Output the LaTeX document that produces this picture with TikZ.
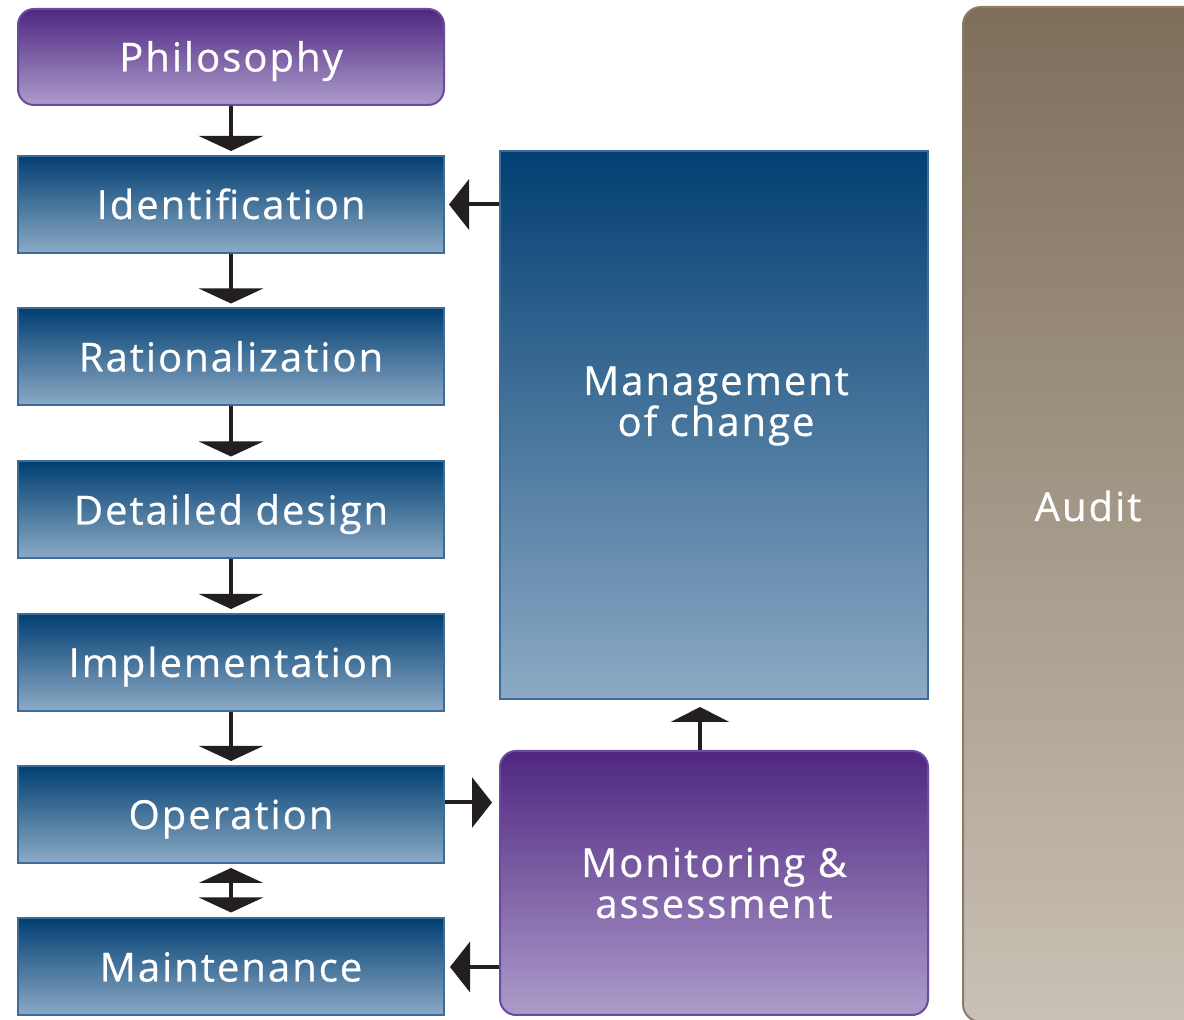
\documentclass[tikz,border=0pt]{standalone}
\usepackage{fontspec}
\setmainfont{Open Sans}[LetterSpace=5,FakeBold=0.6]
\usetikzlibrary{arrows.meta}

\definecolor{navy}{HTML}{023F72}
\definecolor{steel}{HTML}{8CAAC5}
\definecolor{blueedge}{HTML}{3C6C9A}
\definecolor{plum}{HTML}{4F2681}
\definecolor{lilac}{HTML}{AC9CCA}
\definecolor{plumedge}{HTML}{6B4B9D}
\definecolor{taupe}{HTML}{7E6F5B}
\definecolor{sand}{HTML}{C9C1B5}
\definecolor{taupeedge}{HTML}{8B7B67}
\definecolor{inkblack}{HTML}{231F20}

\tikzset{
  boxtext/.style={text=white, font=\fontsize{40}{41}\selectfont, align=center, inner sep=0pt},
  oneline/.style={text height=29pt, text depth=0pt},
  bluebox/.style={boxtext, oneline, draw=blueedge, line width=2pt, top color=navy, bottom color=steel,
    minimum width=426pt, minimum height=97pt},
  purplebox/.style={boxtext, draw=plumedge, line width=2pt, top color=plum, bottom color=lilac,
    rounded corners=16pt},
  flowarrow/.style={draw=inkblack, line width=4pt, -{Triangle[width=64pt,length=15pt]}, shorten >=4pt},
  sidearrow/.style={draw=inkblack, line width=4pt, -{Triangle[width=50pt,length=20pt]}},
}

\begin{document}
\begin{tikzpicture}[x=1pt,y=1pt]
\useasboundingbox (0,0) rectangle (1184,1020);
\clip (0,0) rectangle (1184,1020);

% main sequence of stages
\node[purplebox, oneline, minimum width=426pt, minimum height=96pt] (philo) at (231,963) {Philosophy};
\node[bluebox] (ident) at (231,815.5) {Identification};
\node[bluebox] (rat)   at (231,663)   {Rationalization};
\node[bluebox] (det)   at (231,510)   {Detailed design};
\node[bluebox] (impl)  at (231,357.5) {Implementation};
\node[bluebox] (op)    at (231,205.5) {Operation};
\node[bluebox] (maint) at (231,53)    {Maintenance};

% management of change and monitoring
\node[bluebox, minimum width=428pt, minimum height=548pt] (moc) at (714,595) {};
\node[boxtext] (moctext) at (716,614) {Management\\of change};
\node[purplebox, minimum width=428pt, minimum height=264pt] (mon) at (714,137) {Monitoring \&\\assessment};

% audit column
\node[draw=taupeedge, line width=2pt, top color=taupe, bottom color=sand, rounded corners=18pt,
      minimum width=250pt, minimum height=1015pt] (audit) at (1088,505.5) {};
\node[boxtext] (audittext) at (1088,514) {Audit};

% connectors
\draw[flowarrow] (philo.south) -- (ident.north);
\draw[flowarrow] (ident.south) -- (rat.north);
\draw[flowarrow] (rat.south) -- (det.north);
\draw[flowarrow] (det.south) -- (impl.north);
\draw[flowarrow] (impl.south) -- (op.north);
\draw[draw=inkblack, line width=4pt, {Triangle[width=64pt,length=15pt]}-{Triangle[width=64pt,length=15pt]},
      shorten <=4pt, shorten >=5pt] (op.south) -- (maint.north);

\draw[sidearrow, shorten >=4pt] (moc.west |- ident.east) -- (ident.east);
\coordinate (opout) at ([yshift=12pt]op.east);
\draw[sidearrow, shorten >=7pt] (opout) -- (opout -| mon.west);
\draw[sidearrow, shorten >=5pt] (mon.west |- maint.east) -- (maint.east);
\draw[draw=inkblack, line width=4pt, -{Triangle[width=58pt,length=15pt]}, shorten >=7pt]
      ([xshift=-14pt]mon.north) -- ([xshift=-14pt]moc.south);
\end{tikzpicture}
\end{document}
